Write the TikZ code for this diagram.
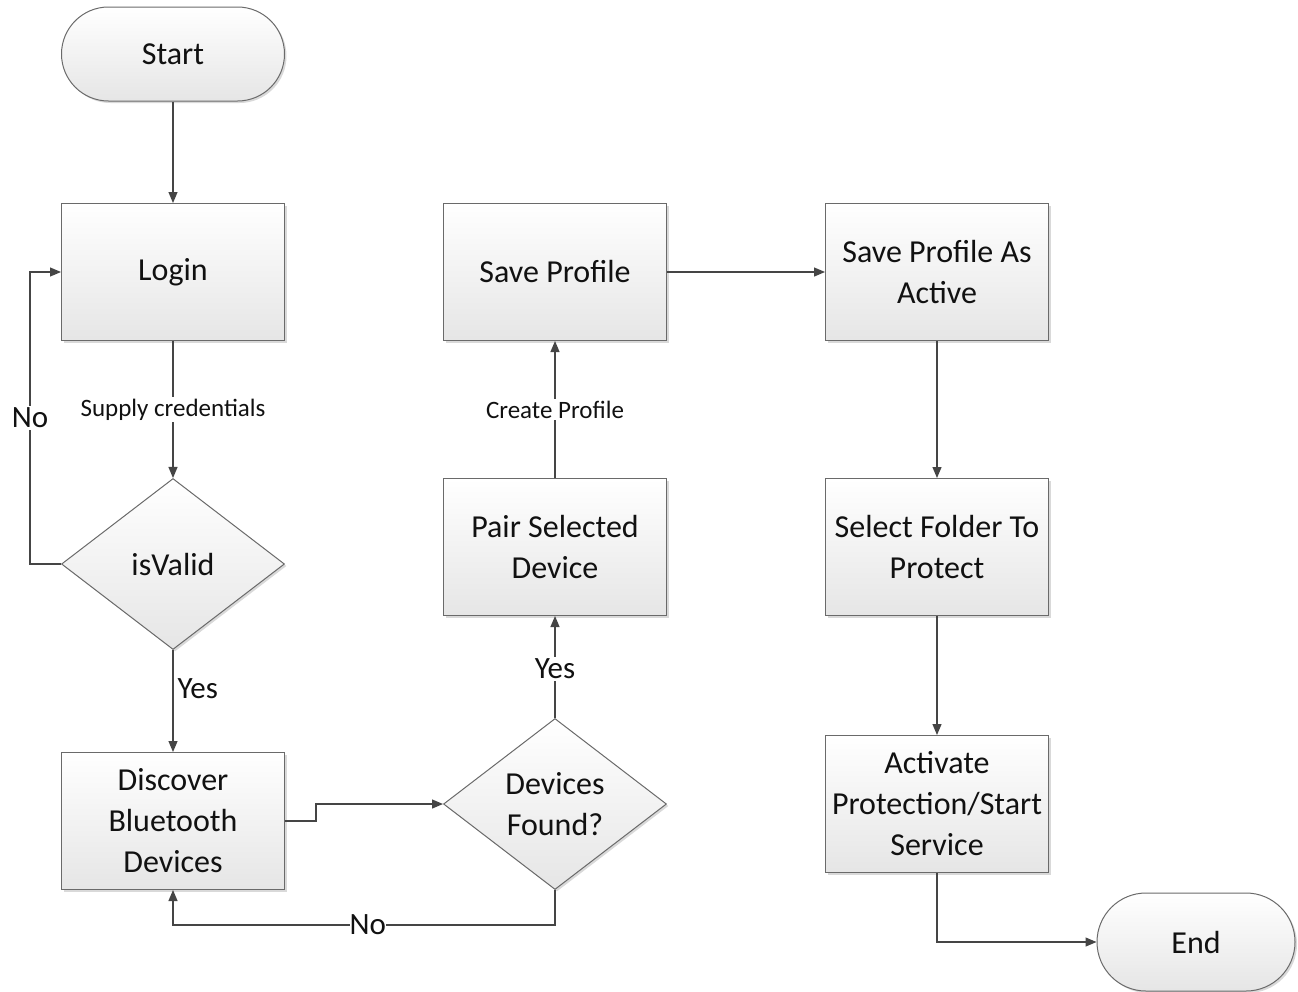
\documentclass[tikz,border=0pt]{standalone}
\usepackage{fontspec}
\setmainfont{Carlito}
\usetikzlibrary{shapes.geometric,shapes.misc,shadows,arrows.meta}
\definecolor{lineC}{HTML}{454545}
\definecolor{borderC}{HTML}{6A6A6A}
\definecolor{txtC}{HTML}{111111}
\tikzset{
  base/.style={draw=borderC, line width=1pt, top color=white, bottom color=black!10,
    text=txtC, font=\fontsize{32}{41}\selectfont, align=center, inner sep=0pt,
    drop shadow={shadow xshift=2pt, shadow yshift=-2pt, fill=black!25, opacity=0.6}},
  procbox/.style={base, rectangle, minimum width=223pt, minimum height=137pt},
  decbox/.style={base, diamond, minimum width=223pt, minimum height=171pt},
  termbox/.style={base, rounded rectangle, minimum width=223pt, minimum height=94pt},
  conn/.style={draw=lineC, line width=1.2pt, -{Triangle[length=11pt,width=9pt]}},
  lbl/.style={fill=white, text=txtC, inner sep=2pt, font=\fontsize{25}{28}\selectfont},
  biglbl/.style={fill=white, text=txtC, inner sep=2pt, font=\fontsize{31}{34}\selectfont},
}
\begin{document}
\begin{tikzpicture}[x=1pt,y=-1pt]
\useasboundingbox (0,0) rectangle (1298,991);
\node[termbox] (start) at (173,54) {Start};
\node[procbox] (login) at (173,272) {Login};
\node[decbox] (valid) at (173,564) {isValid};
\node[procbox] (disc) at (173,821) {Discover\\Bluetooth\\Devices};
\node[decbox] (found) at (555,804) {Devices\\Found?};
\node[procbox] (pair) at (555,547) {Pair Selected\\Device};
\node[procbox] (save) at (555,272) {Save Profile};
\node[procbox] (active) at (937,272) {Save Profile As\\Active};
\node[procbox] (folder) at (937,547) {Select Folder To\\Protect};
\node[procbox] (activate) at (937,804) {Activate\\Protection/Start\\Service};
\node[termbox, minimum width=198pt, minimum height=98pt] (end) at (1196,942) {End};

\coordinate (noL) at (30,418);
\coordinate (discStep) at (316,821);
\coordinate (foundBot) at (555,925);
\coordinate (discBot) at (173,925);

\draw[conn] (start) -- (login);
\draw[conn] (login) -- node[lbl]{Supply credentials} (valid);
\draw[conn] (valid.west) -| (noL) node[biglbl]{No} |- (login.west);
\draw[conn] (valid) -- node[biglbl, fill=none, anchor=west, pos=0.38, xshift=2pt]{Yes} (disc);
\draw[conn] (disc.east) -- (discStep) |- (found.west);
\draw[conn] (found.south) -- (foundBot) -- node[biglbl, pos=0.49, inner xsep=0pt]{No} (discBot) -- (disc.south);
\draw[conn] (found.north) -- node[biglbl, pos=0.48]{Yes} (pair.south);
\draw[conn] (pair) -- node[lbl]{Create Profile} (save);
\draw[conn] (save) -- (active);
\draw[conn] (active) -- (folder);
\draw[conn] (folder) -- (activate);
\draw[conn] (activate.south) |- (end.west);
\end{tikzpicture}
\end{document}
